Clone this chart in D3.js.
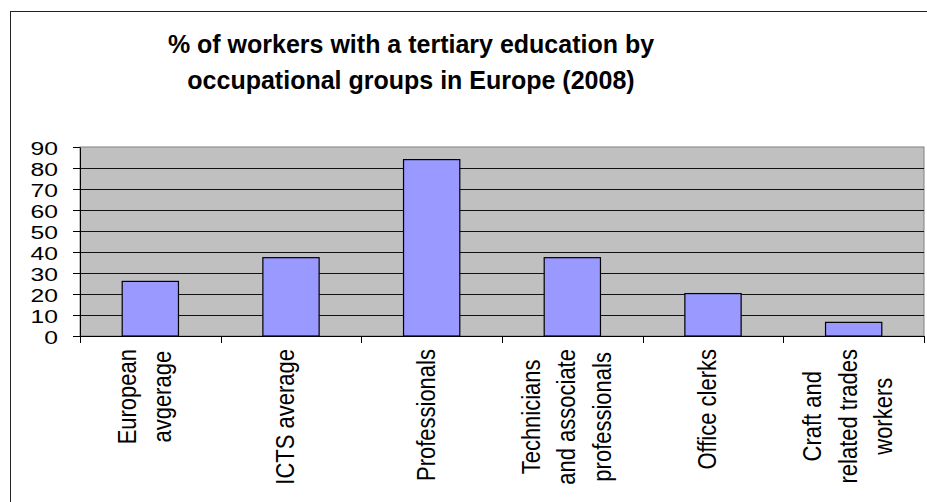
<!DOCTYPE html>
<html>
<head>
<meta charset="utf-8">
<script src="https://cdn.jsdelivr.net/npm/d3@7"></script>
<style>
  body { margin: 0; background: #fff; }
  text { font-family: "Liberation Sans", Arial, sans-serif; fill: #000; }
</style>
</head>
<body>
<div id="chart"></div>
<script>
// chart data
var categories = [
  ["European", "avgerage"],
  ["ICTS average"],
  ["Professionals"],
  ["Technicians", "and associate", "professionals"],
  ["Office clerks"],
  ["Craft and", "related trades", "workers"]
];
var values = [26, 37.3, 84, 37.3, 20.2, 6.5];
var yTicks = [0, 10, 20, 30, 40, 50, 60, 70, 80, 90];
var titleLines = ["% of workers with a tertiary education by", "occupational groups in Europe (2008)"];

var width = 927, height = 502;
var plot = { left: 80, right: 924, top: 147, bottom: 336 };

var svg = d3.select("#chart")
  .append("svg")
  .attr("width", width)
  .attr("height", height);

svg.append("rect")
  .attr("width", width).attr("height", height)
  .attr("fill", "#fff");

// outer chart frame (runs off the picture at right and bottom)
svg.append("rect")
  .attr("x", 10.5).attr("y", 11.5)
  .attr("width", 1000).attr("height", 1000)
  .attr("fill", "none")
  .attr("stroke", "#222");

// title
svg.append("g")
  .selectAll("text")
  .data(titleLines)
  .enter()
  .append("text")
  .attr("x", 411)
  .attr("y", (d, i) => 53 + i * 35.5)
  .attr("text-anchor", "middle")
  .attr("font-size", "25px")
  .attr("font-weight", "bold")
  .text(d => d);

var x = d3.scaleBand()
  .domain(d3.range(categories.length))
  .range([plot.left, plot.right])
  .paddingInner(0.6)
  .paddingOuter(0.3);

var y = d3.scaleLinear()
  .domain([0, 90])
  .range([plot.bottom, plot.top]);

// plot area
svg.append("rect")
  .attr("x", plot.left).attr("y", plot.top)
  .attr("width", plot.right - plot.left)
  .attr("height", plot.bottom - plot.top)
  .attr("fill", "#c0c0c0")
  .attr("stroke", "#808080");

// gridlines
svg.append("g")
  .selectAll("line")
  .data(yTicks.filter(d => d > 0 && d < 90))
  .enter()
  .append("line")
  .attr("x1", plot.left).attr("x2", plot.right)
  .attr("y1", d => Math.round(y(d)) + 0.5)
  .attr("y2", d => Math.round(y(d)) + 0.5)
  .attr("stroke", "#111");

// bars
svg.append("g")
  .selectAll("rect")
  .data(values)
  .enter()
  .append("rect")
  .attr("x", (d, i) => x(i))
  .attr("y", d => y(d))
  .attr("width", x.bandwidth())
  .attr("height", d => y(0) - y(d))
  .attr("fill", "#9999ff")
  .attr("stroke", "#000")
  .attr("stroke-width", 1.2);

// y axis
var yAxis = d3.axisLeft(y).tickValues(yTicks).tickSize(7).tickSizeOuter(0);
var gy = svg.append("g")
  .attr("transform", "translate(" + plot.left + ",0)")
  .call(yAxis);
gy.select(".domain").attr("stroke", "#000");
gy.selectAll(".tick line").attr("stroke", "#000");
gy.selectAll(".tick text")
  .attr("x", 0).attr("dy", null)
  .attr("font-size", "19px")
  .attr("font-family", "Liberation Sans, Arial, sans-serif")
  .attr("text-anchor", "end")
  .attr("dominant-baseline", "central")
  .attr("transform", "translate(-22,1) scale(1.3,1)");

// x axis line and boundary ticks
var step = x.step();
svg.append("line")
  .attr("x1", plot.left).attr("x2", plot.right)
  .attr("y1", plot.bottom + 0.5).attr("y2", plot.bottom + 0.5)
  .attr("stroke", "#000");
svg.append("g")
  .selectAll("line")
  .data(d3.range(categories.length + 1))
  .enter()
  .append("line")
  .attr("x1", i => Math.round(plot.left + i * step) + 0.5)
  .attr("x2", i => Math.round(plot.left + i * step) + 0.5)
  .attr("y1", plot.bottom).attr("y2", plot.bottom + 7)
  .attr("stroke", "#000");

// rotated category labels
var labelTop = 349;
var lineGap = 35.5;
var labels = svg.append("g")
  .selectAll("g")
  .data(categories)
  .enter()
  .append("g");

labels.each(function (lines, i) {
  var cx = x(i) + x.bandwidth() / 2;
  var g = d3.select(this);
  var t = g.selectAll("text")
    .data(lines)
    .enter()
    .append("text")
    .attr("font-size", "22px")
    .attr("text-anchor", "middle")
    .text(d => d);
  var maxLen = d3.max(t.nodes(), n => n.getComputedTextLength());
  t.attr("transform", (d, j) => {
    var off = (j - (lines.length - 1) / 2) * lineGap + 3;
    return "translate(" + (cx + off) + "," + (labelTop + maxLen / 2) + ") rotate(-90) scale(1,1.15)";
  });
});
</script>
</body>
</html>
